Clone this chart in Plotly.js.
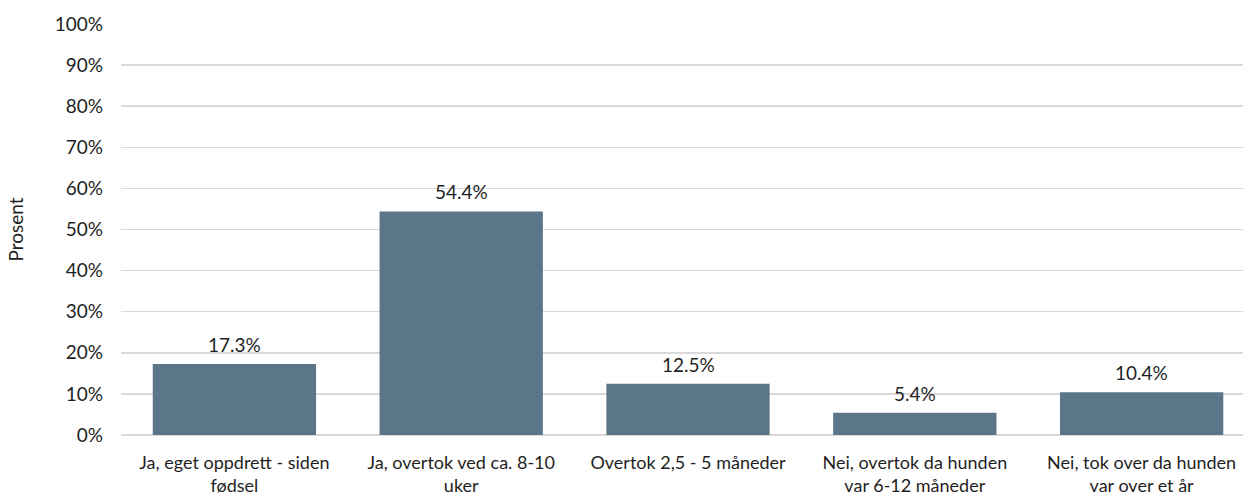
<!DOCTYPE html>
<html>
<head>
<meta charset="utf-8">
<script src="https://cdn.plot.ly/plotly-3.0.1.min.js"></script>
<style>html,body{margin:0;padding:0;background:#fff;}#chart{width:1243px;height:502px;}</style>
</head>
<body>
<div id="chart"></div>
<script>
var categories = [
  "Ja, eget oppdrett - siden<br>fødsel",
  "Ja, overtok ved ca. 8-10<br>uker",
  "Overtok 2,5 - 5 måneder",
  "Nei, overtok da hunden<br>var 6-12 måneder",
  "Nei, tok over da hunden<br>var over et år"
];
var values = [0.173, 0.544, 0.125, 0.054, 0.104];
var valueLabels = ["17.3%", "54.4%", "12.5%", "5.4%", "10.4%"];
var yTickVals = [0, 0.1, 0.2, 0.3, 0.4, 0.5, 0.6, 0.7, 0.8, 0.9, 1.0];
var yTickText = ["0%", "10%", "20%", "30%", "40%", "50%", "60%", "70%", "80%", "90%", "100%"];

var font = "Lato, 'Open Sans', sans-serif";
var txtColor = "#1f1f1f";

var trace = {
  type: "bar",
  x: categories,
  y: values,
  marker: {color: "#5B7688"},
  hoverinfo: "none"
};

var annotations = categories.map(function (c, i) {
  return {
    x: c, y: values[i], xref: "x", yref: "y",
    text: valueLabels[i], showarrow: false,
    yanchor: "bottom", yshift: 6,
    font: {family: font, size: 19, color: txtColor}
  };
});

var layout = {
  width: 1243,
  height: 502,
  margin: {l: 121, r: 0, t: 24, b: 67},
  paper_bgcolor: "#ffffff",
  plot_bgcolor: "#ffffff",
  bargap: 0.28,
  showlegend: false,
  font: {family: font, size: 19, color: txtColor},
  annotations: annotations,
  xaxis: {
    type: "category",
    range: [-0.5, 4.447],
    showgrid: false,
    showline: false,
    zeroline: false,
    ticks: "",
    tickfont: {family: font, size: 18, color: txtColor},
    ticklabelstandoff: 15,
    automargin: false
  },
  yaxis: {
    range: [0, 1],
    tickvals: yTickVals,
    ticktext: yTickText,
    showgrid: true,
    gridcolor: "#d9d9d9",
    gridwidth: 1.5,
    zeroline: true,
    zerolinecolor: "#d9d9d9",
    zerolinewidth: 1.5,
    showline: false,
    ticks: "",
    ticklabelstandoff: 17,
    tickfont: {family: font, size: 19, color: txtColor},
    title: {text: "Prosent", font: {family: font, size: 19, color: txtColor}, standoff: 26},
    automargin: false,
    fixedrange: true
  }
};

Plotly.newPlot("chart", [trace], layout, {displayModeBar: false, staticPlot: true});
</script>
</body>
</html>
